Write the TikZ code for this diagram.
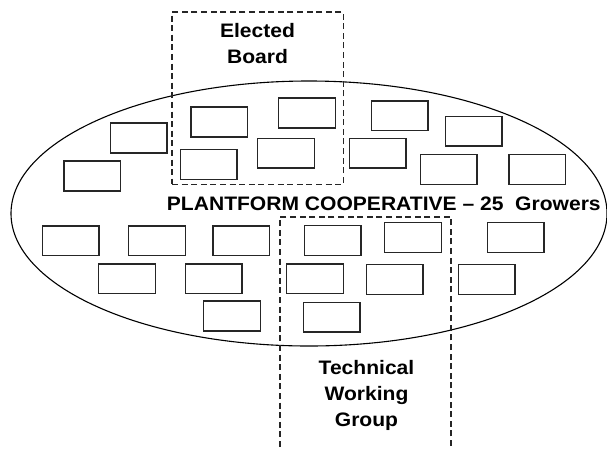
\documentclass[tikz,border=0pt]{standalone}
\usepackage{fontspec}
\newfontfamily\lblfont[FakeStretch=1.08,Ligatures=TeX]{Liberation Sans}
\begin{document}
\begin{tikzpicture}[x=1pt,y=-1pt,
  member/.style={draw=black!85,line width=1.5pt,rectangle,minimum width=56.7pt,minimum height=29.7pt,inner sep=0pt},
  group/.style={draw=black!85,line width=1.2pt,dash pattern=on 6pt off 3.6pt,rectangle,inner sep=0pt},
  lbl/.style={font=\lblfont\bfseries\fontsize{19.5}{25.8}\selectfont,align=center,inner sep=0pt}]
\useasboundingbox (0,0) rectangle (607,448);
\fill[white] (0,0) rectangle (607,448);
% cooperative ellipse
\draw[line width=1.1pt] (309,213.5) ellipse [x radius=298pt,y radius=132.5pt];
\node[lbl,anchor=base] (coop) at (383.8,210) {PLANTFORM COOPERATIVE – 25\ \ Growers};
% growers
\node[member] (g1) at (138.7,137.9) {};
\node[member] (g2) at (219.2,121.9) {};
\node[member] (g3) at (307,112.9) {};
\node[member] (g4) at (208.7,164.5) {};
\node[member] (g5) at (286,153.2) {};
\node[member] (g6) at (92.3,175.9) {};
\node[member] (g7) at (399.8,115.7) {};
\node[member] (g8) at (473.8,131.2) {};
\node[member] (g9) at (377.8,153.2) {};
\node[member] (g10) at (448.7,169.5) {};
\node[member] (g11) at (537.2,169.5) {};
\node[member] (g12) at (70.7,240.7) {};
\node[member] (g13) at (157,240.7) {};
\node[member] (g14) at (241.3,240.7) {};
\node[member] (g15) at (127,278.7) {};
\node[member] (g16) at (213.7,278.7) {};
\node[member] (g17) at (232,315.9) {};
\node[member] (g18) at (332.8,240.5) {};
\node[member] (g19) at (315,278.7) {};
\node[member] (g20) at (331.8,317.3) {};
\node[member] (g21) at (413,237.5) {};
\node[member] (g22) at (515.7,237.5) {};
\node[member] (g23) at (394.8,279.5) {};
\node[member] (g24) at (486.8,279.5) {};
% elected board
\node[group,minimum width=171.3pt,minimum height=172.3pt] (board) at (257.65,98.15) {};
\node[lbl,anchor=base] (boardtxt) at (257.5,63.3) {Elected\\Board};
% technical working group
\node[group,minimum width=171pt,minimum height=250pt] (twg) at (365.5,342) {};
\node[lbl,anchor=base] (twgtxt) at (366.5,426) {Technical\\Working\\Group};
\end{tikzpicture}
\end{document}
